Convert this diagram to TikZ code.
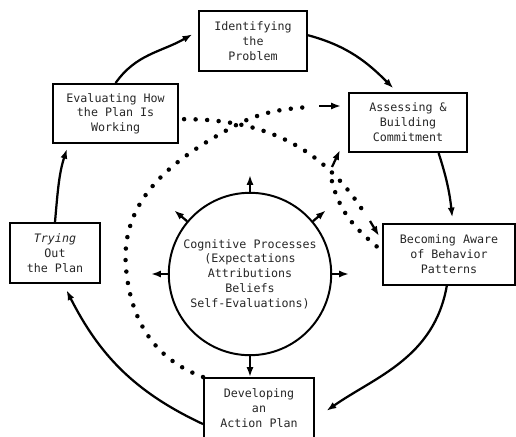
\documentclass[tikz,border=0pt]{standalone}
\usepackage{fontspec}
\setmonofont{DejaVu Sans Mono}
\usetikzlibrary{arrows.meta}

\tikzset{
    stagebox/.style={draw, line width=1.4pt, align=center, inner sep=2pt,
        font=\ttfamily\fontsize{8.3}{10.5}\selectfont, text=black!85},
    arr/.style={-{Latex[length=7pt,width=5pt]}, line width=1.6pt},
    dotline/.style={line width=3.2pt, line cap=round, dash pattern=on 0pt off 8.2pt},
}

\begin{document}
\begin{tikzpicture}
    \useasboundingbox (0,0) rectangle (12.9,10.9);

    % 六个阶段
    \node[stagebox, minimum width=2.7cm, minimum height=1.5cm] (ident) at (6.325, 9.875) {Identifying\\the\\Problem};
    \node[stagebox, minimum width=2.95cm, minimum height=1.48cm] (assess) at (10.2, 7.84) {Assessing \&\\Building\\Commitment};
    \node[stagebox, minimum width=3.3cm, minimum height=1.52cm] (aware) at (11.225, 4.54) {Becoming Aware\\of Behavior\\Patterns};
    \node[stagebox, minimum width=2.75cm, minimum height=1.5cm] (develop) at (6.475, 0.7) {Developing\\an\\Action Plan};
    \node[stagebox, minimum width=2.25cm, minimum height=1.5cm] (trying) at (1.375, 4.575) {\itshape Trying\\Out\\the Plan};
    \node[stagebox, minimum width=3.13cm, minimum height=1.48cm] (eval) at (2.89, 8.06) {Evaluating How\\the Plan Is\\Working};

    % 中间的圆
    \node[stagebox, circle, minimum size=4.06cm, inner sep=0pt] (cog) at (6.25, 4.05)
        {Cognitive Processes\\(Expectations\\Attributions\\Beliefs\\Self-Evaluations)};

    % 外圈箭头
    \draw[arr] (eval.north) to[out=55, in=210] ([xshift=-4pt]ident.173);
    \draw[arr, shorten >=3.5pt] (ident.6) to[out=-15, in=135] (assess.110);
    \draw[arr, shorten >=4pt] (assess.-45) to[out=-72, in=96] (aware.83);
    \draw[arr, shorten >=10pt] (aware.-94) to[out=-100, in=35] (develop.-11);
    \draw[arr, shorten >=5pt] (develop.196) to[out=155, in=-63] (trying.-75);
    \draw[arr, shorten >=3.5pt] (trying.north) to[out=85, in=-108] (eval.213);

    % 圆向外的箭头
    \foreach \a in {0, 40, 90, 140, 180}
        \draw[arr] (cog.\a) -- ([shift={(\a:0.42)}]cog.\a);
    \draw[arr] (cog.south) -- (cog.south |- develop.north);

    % 点线
    \coordinate (a1) at (3.15, 4.2);
    \coordinate (a2) at (6.0, 7.825);
    \coordinate (a3) at (7.7, 8.225);
    \coordinate (a4) at (7.975, 8.25);
    \coordinate (atip) at (8.525, 8.25);
    \draw[dotline] (develop.north west) to[out=160, in=-85] (a1)
        to[out=95, in=208] (a2) to[out=25, in=185] (a3);
    \draw[arr] (a4) -- (atip);

    \coordinate (b1) at (9.125, 5.55);
    \coordinate (b2) at (9.25, 5.375);
    \coordinate (btip) at (9.475, 5.0);
    \draw[dotline, shorten <=3.5pt] (eval.-5) to[out=0, in=122] (b1);
    \draw[arr] (b2) -- (btip);

    \coordinate (c1) at (8.275, 6.475);
    \coordinate (c2) at (8.3, 6.725);
    \coordinate (ctip) at (8.5, 7.15);
    \draw[dotline, shorten <=5pt] (aware.177) to[out=140, in=-78] (c1);
    \draw[arr] (c2) -- (ctip);
\end{tikzpicture}
\end{document}
